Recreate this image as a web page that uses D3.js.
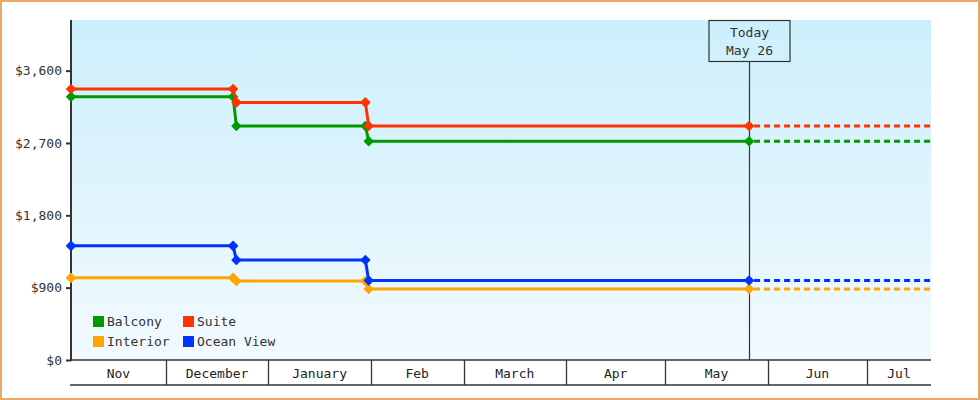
<!DOCTYPE html>
<html>
<head>
<meta charset="utf-8">
<script src="https://cdn.jsdelivr.net/npm/d3@7"></script>
<style>
  html, body { margin: 0; padding: 0; background: #fff; }
  svg { display: block; font-family: 'DejaVu Sans Mono', monospace; }
</style>
</head>
<body>
<svg id="chart"></svg>
<script>
// price change dates (each series shares them), last one is "today"
const pointDates = ['2022-11-02T08', '2022-12-21T08', '2022-12-22T08', '2023-01-30T08', '2023-01-31T08', '2023-05-26T08']
const endDate = '2023-07-20T08'
const todayDate = '2023-05-26T08'
const todayLabel = ['Today', 'May 26']

const seriesNames = ['Balcony', 'Suite', 'Interior', 'Ocean View']
const seriesColors = ['#009900', '#FF3300', '#FFA500', '#0033FF']
const balcony = [3275, 3275, 2912, 2912, 2722, 2722]
const suite = [3372, 3372, 3205, 3205, 2912, 2912]
const interior = [1022, 1022, 982, 982, 884, 884]
const oceanView = [1420, 1420, 1245, 1245, 990, 990]

const yTicks = [0, 900, 1800, 2700, 3600]
const yMax = 4230

const monthStarts = ['2022-11-01T00', '2022-12-01T00', '2023-01-01T00', '2023-02-01T00', '2023-03-01T00',
  '2023-04-01T00', '2023-05-01T00', '2023-06-01T00', '2023-07-01T00']
const monthLabels = ['Nov', 'December', 'January', 'Feb', 'March', 'Apr', 'May', 'Jun', 'Jul']

const width = 980
const height = 400
const margin = { top: 20, right: 49, bottom: 40, left: 71 }
const inkColor = '#333'

const parse = d3.utcParse('%Y-%m-%dT%H')

const svg = d3.select('#chart')
  .attr('width', width)
  .attr('height', height)
  .attr('viewBox', `0 0 ${width} ${height}`)

const x = d3.scaleUtc()
  .domain([parse(pointDates[0]), parse(endDate)])
  .range([margin.left, width - margin.right])

const y = d3.scaleLinear()
  .domain([0, yMax])
  .range([height - margin.bottom, margin.top])

const defs = svg.append('defs')
const grad = defs.append('linearGradient')
  .attr('id', 'bg')
  .attr('x1', 0).attr('y1', 0).attr('x2', 0).attr('y2', 1)
grad.append('stop').attr('offset', '0%').attr('stop-color', '#CCEFFC')
grad.append('stop').attr('offset', '100%').attr('stop-color', '#F2FAFE')

// outer frame
svg.append('rect')
  .attr('x', 1).attr('y', 1)
  .attr('width', width - 2).attr('height', height - 2)
  .attr('fill', '#fff')
  .attr('stroke', '#E9A865')
  .attr('stroke-width', 2)

// plot background
svg.append('rect')
  .attr('x', x.range()[0])
  .attr('y', y.range()[1])
  .attr('width', x.range()[1] - x.range()[0])
  .attr('height', y.range()[0] - y.range()[1])
  .attr('fill', 'url(#bg)')

// month band axis
const x0 = x.range()[0]
const x1 = x.range()[1]
const axisTop = y(0)
const axisBottom = axisTop + 25

const monthAxis = svg.append('g').attr('class', 'month-axis')
monthAxis.append('line')
  .attr('x1', x0 - 1).attr('x2', x1)
  .attr('y1', axisTop).attr('y2', axisTop)
  .attr('stroke', inkColor).attr('stroke-width', 1.5)
monthAxis.append('line')
  .attr('x1', x0 - 1).attr('x2', x1)
  .attr('y1', axisBottom).attr('y2', axisBottom)
  .attr('stroke', inkColor).attr('stroke-width', 1.5)

const months = monthStarts.map((m, i) => {
  const start = Math.max(x(parse(m)), x0)
  const next = i < monthStarts.length - 1 ? x(parse(monthStarts[i + 1])) : x1
  return { label: monthLabels[i], start, end: Math.min(next, x1), first: i === 0 }
})

monthAxis.selectAll('line.sep')
  .data(months.filter(d => !d.first))
  .enter()
  .append('line')
  .attr('class', 'sep')
  .attr('x1', d => Math.round(d.start) + 0.5)
  .attr('x2', d => Math.round(d.start) + 0.5)
  .attr('y1', axisTop)
  .attr('y2', axisBottom)
  .attr('stroke', inkColor)
  .attr('stroke-width', 1.3)

monthAxis.selectAll('text')
  .data(months)
  .enter()
  .append('text')
  .attr('x', d => (d.start + d.end) / 2)
  .attr('y', axisTop + 18)
  .attr('text-anchor', 'middle')
  .attr('font-size', '13px')
  .attr('fill', '#222')
  .text(d => d.label)

// y axis
const yAxis = svg.append('g')
  .attr('transform', `translate(${x0},0)`)
  .call(d3.axisLeft(y)
    .tickValues(yTicks)
    .tickSize(5)
    .tickPadding(4)
    .tickFormat(d => '$' + d3.format(',')(d)))
yAxis.select('.domain').remove()
yAxis.selectAll('.tick line').attr('stroke', inkColor).attr('stroke-width', 2)
yAxis.selectAll('.tick text')
  .attr('fill', '#333')
  .attr('font-size', '13px')
  .attr('font-family', 'DejaVu Sans Mono, monospace')
yAxis.append('line')
  .attr('x1', 0).attr('x2', 0)
  .attr('y1', y.range()[1]).attr('y2', y(0) + 1)
  .attr('stroke', inkColor)
  .attr('stroke-width', 2)

// today marker
const tx = Math.round(x(parse(todayDate))) + 0.5
const boxW = 81
const boxH = 41
svg.append('line')
  .attr('x1', tx).attr('x2', tx)
  .attr('y1', margin.top + boxH).attr('y2', y(0))
  .attr('stroke', inkColor)
  .attr('stroke-width', 1.2)
svg.append('rect')
  .attr('x', tx - boxW / 2).attr('y', margin.top + 0.5)
  .attr('width', boxW).attr('height', boxH)
  .attr('fill', 'none')
  .attr('stroke', inkColor)
  .attr('stroke-width', 1.2)
svg.append('g')
  .selectAll('text')
  .data(todayLabel)
  .enter()
  .append('text')
  .attr('x', tx)
  .attr('y', (d, i) => margin.top + 17 + i * 18)
  .attr('text-anchor', 'middle')
  .attr('font-size', '13px')
  .attr('fill', '#333')
  .text(d => d)

// series
const seriesValues = [balcony, suite, interior, oceanView]
const series = seriesNames.map((name, i) => ({
  name,
  color: seriesColors[i],
  points: pointDates.map((d, j) => ({ date: parse(d), value: seriesValues[i][j] }))
}))

const line = d3.line()
  .x(d => x(d.date))
  .y(d => y(d.value))

const marker = d3.symbol().type(d3.symbolSquare).size(36)

const seriesGroup = svg.append('g')
  .selectAll('g')
  .data(series)
  .enter()
  .append('g')

seriesGroup.append('path')
  .attr('d', d => line(d.points))
  .attr('fill', 'none')
  .attr('stroke', d => d.color)
  .attr('stroke-width', 3)

seriesGroup.append('path')
  .attr('d', d => {
    const last = d.points[d.points.length - 1]
    return line([last, { date: parse(endDate), value: last.value }])
  })
  .attr('fill', 'none')
  .attr('stroke', d => d.color)
  .attr('stroke-width', 3)
  .attr('stroke-dasharray', '6,4')
  .attr('stroke-dashoffset', -5)

seriesGroup.selectAll('path.marker')
  .data(d => d.points.map(p => ({ ...p, color: d.color })))
  .enter()
  .append('path')
  .attr('class', 'marker')
  .attr('d', marker)
  .attr('transform', d => `translate(${x(d.date)},${y(d.value)}) rotate(45)`)
  .attr('fill', d => d.color)
  .attr('stroke', d => d.color)
  .attr('stroke-width', 1.5)
  .attr('stroke-linejoin', 'round')

// legend
const legend = svg.append('g')
  .attr('transform', 'translate(93,316)')
  .selectAll('g')
  .data(series)
  .enter()
  .append('g')
  .attr('transform', (d, i) => `translate(${(i % 2) * 90},${Math.floor(i / 2) * 20})`)

legend.append('rect')
  .attr('width', 11)
  .attr('height', 11)
  .attr('fill', d => d.color)

legend.append('text')
  .attr('x', 14)
  .attr('y', 10)
  .attr('font-size', '13px')
  .attr('fill', '#333')
  .text(d => d.name)
</script>
</body>
</html>
